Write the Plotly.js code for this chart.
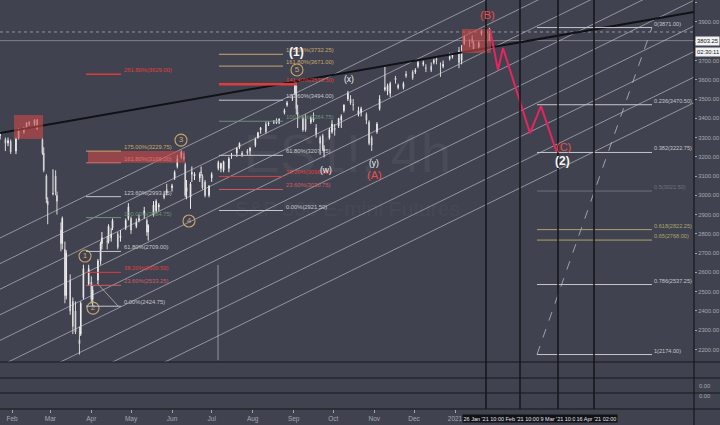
<!DOCTYPE html>
<html><head><meta charset="utf-8">
<script src="https://cdn.plot.ly/plotly-3.0.1.min.js"></script>
<style>html,body{margin:0;padding:0;background:#40434f;}#chart{width:720px;height:425px;}</style>
</head><body><div id="chart"></div>
<script>
// ---------------- DATA ----------------
const dates = [
'2020-01-23','2020-01-27','2020-01-29','2020-01-31','2020-02-04','2020-02-06','2020-02-10','2020-02-12','2020-02-14','2020-02-18',
'2020-02-20','2020-02-24','2020-02-25','2020-02-27','2020-02-28','2020-03-03','2020-03-05','2020-03-06','2020-03-09','2020-03-10',
'2020-03-12','2020-03-13','2020-03-16','2020-03-18','2020-03-20','2020-03-23','2020-03-24','2020-03-26','2020-03-30','2020-04-01',
'2020-04-02','2020-04-06','2020-04-08','2020-04-09','2020-04-13','2020-04-14','2020-04-16','2020-04-17','2020-04-21','2020-04-23',
'2020-04-27','2020-04-29','2020-05-01','2020-05-05','2020-05-07','2020-05-11','2020-05-13','2020-05-14','2020-05-18','2020-05-20',
'2020-05-22','2020-05-26','2020-05-28','2020-06-01','2020-06-03','2020-06-05','2020-06-08','2020-06-10','2020-06-11','2020-06-12',
'2020-06-15','2020-06-16','2020-06-18','2020-06-22','2020-06-23','2020-06-24','2020-06-26','2020-06-29','2020-07-01','2020-07-06',
'2020-07-08','2020-07-10','2020-07-14','2020-07-16','2020-07-20','2020-07-22','2020-07-24','2020-07-28','2020-07-30','2020-08-03',
'2020-08-05','2020-08-07','2020-08-11','2020-08-13','2020-08-17','2020-08-19','2020-08-21','2020-08-25','2020-08-27','2020-08-31',
'2020-09-02','2020-09-03','2020-09-04','2020-09-08','2020-09-10','2020-09-14','2020-09-16','2020-09-18','2020-09-21','2020-09-23',
'2020-09-24','2020-09-28','2020-09-30','2020-10-02','2020-10-05','2020-10-07','2020-10-09','2020-10-12','2020-10-14','2020-10-16',
'2020-10-20','2020-10-22','2020-10-26','2020-10-28','2020-10-30','2020-11-03','2020-11-05','2020-11-09','2020-11-11','2020-11-13',
'2020-11-17','2020-11-19','2020-11-23','2020-11-25','2020-11-30','2020-12-02','2020-12-04','2020-12-08','2020-12-10','2020-12-14',
'2020-12-16','2020-12-18','2020-12-21','2020-12-23','2020-12-28','2020-12-30','2021-01-04','2021-01-06','2021-01-08','2021-01-12',
'2021-01-14','2021-01-15','2021-01-19','2021-01-21','2021-01-25','2021-01-27'];
const opens = [
3310,3290,3272,3280,3230,3298,3330,3352,3372,3370,
3392,3290,3220,3100,2970,3010,3100,3000,2820,2750,
2720,2480,2560,2450,2400,2250,2280,2470,2540,2550,
2460,2560,2660,2750,2760,2760,2780,2830,2800,2780,
2830,2880,2880,2840,2870,2900,2870,2810,2900,2920,
2940,3000,3030,3040,3090,3150,3200,3200,3160,3020,
2990,3110,3100,3090,3120,3100,3070,3000,3090,3140,
3140,3130,3140,3210,3220,3250,3220,3230,3230,3260,
3300,3340,3370,3370,3380,3390,3380,3430,3470,3500,
3530,3570,3430,3400,3400,3380,3400,3350,3300,3310,
3230,3300,3330,3350,3360,3390,3440,3500,3500,3470,
3420,3430,3420,3380,3300,3330,3450,3550,3540,3530,
3610,3560,3560,3630,3640,3640,3670,3680,3660,3670,
3690,3710,3680,3670,3710,3720,3750,3700,3790,3800,
3810,3790,3770,3840,3850,3840];
const highs = [
3330,3300,3300,3290,3300,3350,3355,3380,3385,3395,
3397,3300,3250,3110,2990,3135,3130,3020,2860,2890,
2760,2715,2590,2470,2450,2320,2450,2640,2640,2580,
2530,2670,2760,2810,2790,2850,2830,2880,2810,2820,
2880,2960,2890,2880,2900,2940,2880,2850,2970,2980,
2960,3020,3060,3060,3130,3210,3233,3220,3170,3080,
3070,3150,3120,3120,3150,3110,3080,3050,3120,3180,
3170,3180,3200,3220,3250,3275,3230,3240,3250,3300,
3330,3355,3385,3385,3390,3400,3400,3450,3490,3520,
3588,3585,3470,3410,3420,3410,3430,3370,3310,3320,
3260,3350,3390,3370,3400,3420,3470,3542,3520,3500,
3460,3460,3430,3390,3310,3380,3520,3668,3580,3590,
3620,3580,3590,3645,3650,3660,3700,3700,3680,3690,
3710,3720,3690,3700,3740,3740,3770,3780,3830,3810,
3830,3800,3800,3860,3860,3870];
const lows = [
3290,3230,3255,3215,3214,3290,3320,3345,3360,3360,
3340,3210,3120,2960,2850,3000,3000,2900,2710,2720,
2440,2460,2380,2280,2280,2174,2270,2460,2530,2440,
2425,2540,2640,2720,2720,2750,2760,2820,2720,2760,
2820,2870,2800,2830,2860,2880,2790,2765,2890,2910,
2920,2980,3000,3020,3080,3140,3190,3180,2990,2980,
2930,3070,3080,3070,3100,3030,2990,2990,3070,3130,
3120,3120,3120,3190,3200,3240,3200,3210,3210,3250,
3295,3320,3320,3360,3370,3370,3370,3420,3460,3490,
3520,3420,3350,3330,3330,3370,3380,3300,3210,3230,
3197,3290,3320,3310,3350,3350,3430,3490,3470,3440,
3410,3410,3370,3260,3230,3320,3440,3540,3520,3510,
3580,3550,3550,3610,3600,3630,3660,3670,3640,3640,
3680,3680,3615,3660,3700,3710,3660,3680,3780,3770,
3790,3750,3760,3830,3790,3800];
const closes = [
3318,3270,3285,3225,3295,3345,3350,3375,3378,3390,
3345,3220,3130,2980,2950,3010,3020,2970,2750,2880,
2480,2700,2400,2320,2290,2230,2440,2620,2620,2460,
2510,2660,2750,2780,2760,2840,2800,2870,2730,2790,
2870,2940,2820,2860,2880,2920,2810,2845,2950,2970,
2950,2990,3010,3050,3120,3190,3225,3190,3000,3040,
3060,3120,3110,3110,3120,3040,3000,3050,3110,3170,
3165,3175,3190,3210,3245,3270,3210,3220,3245,3290,
3325,3350,3330,3375,3385,3375,3395,3440,3480,3500,
3580,3450,3420,3340,3340,3400,3390,3320,3270,3240,
3240,3340,3370,3340,3400,3410,3470,3530,3480,3470,
3440,3450,3390,3270,3260,3370,3500,3560,3570,3580,
3600,3570,3580,3620,3610,3650,3690,3690,3660,3650,
3700,3700,3680,3680,3720,3730,3690,3740,3820,3800,
3800,3760,3790,3850,3840,3803.25];

const lastPrice = 3803.25;
const highLine = 3848;
const countdown = '02:30:11';

// x extent of the chart (time axis)
const xStart = '2020-01-22 22:13', xEnd = '2021-06-30 17:30';
const tickVals = ['2020-02-01','2020-03-01','2020-04-01','2020-05-01','2020-06-01','2020-07-01','2020-08-01','2020-09-01','2020-10-01','2020-11-01','2020-12-01','2021-01-01'];
const tickText = ['Feb','Mar','Apr','May','Jun','Jul','Aug','Sep','Oct','Nov','Dec','2021'];

// parallel channel lines (price at start / end of the axis)
const chStart = [2778.7,2645.9,2513.0,2380.1,2247.3,2114.4,1981.5,1848.7,1715.8];
const chEnd   = [4543.7,4410.9,4278.0,4145.1,4012.3,3879.4,3746.5,3613.7,3480.8];

// black trend line
const trendPrices = [3324, 3952];

// fib group 1 (Mar-Apr 2020)
const fib1Dates = ['2020-03-27 23:00','2020-04-23 10:00','2020-04-24 22:30'];
const fib1Labels = ['175.00%(3229.75)','161.80%(3169.00)','123.60%(2993.25)','100.00%(2884.75)','61.80%(2709.00)','38.20%(2600.50)','23.60%(2533.25)','0.00%(2424.75)'];
const fib1Prices = [3229.75,3169.00,2993.25,2884.75,2709.00,2600.50,2533.25,2424.75];
const fibTopLabel = '261.80%(3629.00)';
const fibTopPrice = 3629.00;

// fib group 2 (Jul-Aug 2020)
const fib2Dates = ['2020-07-06 12:00','2020-08-23 22:00','2020-08-25 10:00','2020-09-03 12:00'];
const fib2Labels = ['175.00%(3732.25)','161.80%(3671.00)','141.40%(3576.50)','123.60%(3494.00)','100.00%(3384.75)','61.80%(3207.75)','38.20%(3098.25)','23.60%(3030.75)','0.00%(2921.50)'];
const fib2Prices = [3732.25,3671.00,3576.50,3494.00,3384.75,3207.75,3098.25,3030.75,2921.50];

// fib retracement (projection, 2021)
const fib3Dates = ['2021-03-04 00:00','2021-05-29 23:15','2021-05-30 17:30'];
const fib3Labels = ['0(3871.00)','0.236(3470.50)','0.382(3222.75)','0.5(3022.50)','0.618(2822.25)','0.65(2768.00)','0.786(2537.25)','1(2174.00)'];
const fib3Prices = [3871.00,3470.50,3222.75,3022.50,2822.25,2768.00,2537.25,2174.00];

// red zones
const zoneX0 = ['2020-02-02 12:00','2020-03-29 11:00','2021-01-06 07:00'];
const zoneX1 = ['2020-02-24 10:30','2020-06-10 19:40','2021-01-28 05:00'];
const zoneP0 = [3417, 3229.75, 3863.5];
const zoneP1 = [3293, 3169.00, 3739];

// projected path
const pathDates = ['2021-01-27 12:00','2021-02-02 12:00','2021-02-06 07:00','2021-02-26 17:00','2021-03-07 00:00','2021-03-19 02:00'];
const pathPrices = [3863, 3651, 3765, 3323, 3463, 3220];

// vertical time markers and their axis labels
const vDates = ['2021-01-24 10:30','2021-02-19 03:40','2021-03-19 21:20','2021-04-16 02:30'];
const vLabelDates = ['2021-01-23 04:00','2021-02-20 19:40','2021-03-19 12:15','2021-04-17 16:50'];
const vLabels = ["26 Jan '21 10:00","Feb '21 10:00","9 Mar '21 10:0","16 Apr '21 02:00"];

// other drawing lines
const fibTrendDates = ['2020-04-05 07:00','2020-04-21 04:00'];
const fibTrendPrices = [2545, 2426];
const vGrayDates = ['2020-07-05 19:00','2020-07-05 19:00'];
const vGrayPrices = [2145, 2639];

// wave labels
const circText = ['1','2','3','4','5'];
const circDates = ['2020-03-27 05:00','2020-04-02 06:00','2020-06-07 19:00','2020-06-13 20:00','2020-09-03 12:00'];
const circPrices = [2685, 2415, 3287, 2867, 3651];
const whiteText = ['(x)','(w)','(y)'];
const whiteDates = ['2020-10-12 19:00','2020-09-25 11:00','2020-10-31 18:00'];
const whitePrices = [3604, 3132, 3168];
const boldText = ['(1)','(2)'];
const boldDates = ['2020-09-03 12:00','2021-03-22 22:00'];
const boldPrices = [3744, 3178];
const redText = ['(A)','(B)','(C)'];
const redDates = ['2020-10-31 18:00','2021-01-25 05:00','2021-03-23 16:00'];
const redPrices = [3106, 3936, 3251];

// ---------------- STYLE ----------------
const BG = '#40434f';
const FONT = 'Liberation Sans, Arial, sans-serif';
const AX = '#a4a7b1';
const DARK = '#17181d';
const gray = '#c4c6cc', gold = '#c9a56e', red = '#e03b3b', pink = '#d35a66', green = '#6f8f78', olive = '#aaa46a', faint = '#6d707c';
const fib1Colors = [gold, '#e07070', gray, green, gray, red, pink, gray];
const fib2Colors = [gold, gold, red, gray, green, gray, red, pink, gray];
const fib3Colors = [gray, gray, gray, faint, olive, olive, gray, gray];

const H = 409; // plot height in px
const mainBottom = 1 - 362/H;

const traces = [];
const chX = [], chY = [];
chStart.forEach((p, i) => { chX.push(xStart, xEnd, null); chY.push(p, chEnd[i], null); });
traces.push({type:'scatter', mode:'lines', x: chX, y: chY, line:{color:'rgba(215,217,224,0.55)', width:1}, hoverinfo:'skip'});
traces.push({type:'scatter', mode:'lines', x: vGrayDates, y: vGrayPrices, line:{color:'rgba(215,217,224,0.55)', width:1}, hoverinfo:'skip'});
traces.push({type:'scatter', mode:'lines', x: fibTrendDates, y: fibTrendPrices, line:{color:'rgba(215,217,224,0.6)', width:1}, hoverinfo:'skip'});
traces.push({type:'scatter', mode:'lines', x: [xStart, xEnd], y: [highLine, highLine], line:{color:'rgba(200,202,210,0.6)', width:1, dash:'dot'}, hoverinfo:'skip'});
traces.push({type:'scatter', mode:'lines', x: [xStart, xEnd], y: [lastPrice, lastPrice], line:{color:'rgba(200,202,210,0.45)', width:1}, hoverinfo:'skip'});
traces.push({type:'scatter', mode:'lines', x: [fib3Dates[0], fib3Dates[1]], y: [fib3Prices[7], fib3Prices[0]], line:{color:'rgba(200,202,210,0.7)', width:1, dash:'dash'}, hoverinfo:'skip'});

traces.push({type:'candlestick', x: dates, open: opens, high: highs, low: lows, close: closes,
  increasing:{line:{color:'#eeeeee', width:1}, fillcolor:'#eeeeee'},
  decreasing:{line:{color:'#d8d8d8', width:1}, fillcolor:'#d8d8d8'},
  whiskerwidth:0, hoverinfo:'skip'});

traces.push({type:'scatter', mode:'lines', x:[xStart, xEnd], y: trendPrices, line:{color:'#111216', width:2}, hoverinfo:'skip'});
traces.push({type:'scatter', mode:'lines', x: pathDates, y: pathPrices, line:{color:'#e8245f', width:2}, hoverinfo:'skip'});
traces.push({type:'scatter', mode:'markers+text', x: circDates, y: circPrices, text: circText,
  marker:{symbol:'circle', size:12, color:'rgba(0,0,0,0)', line:{color:gold, width:1.1}},
  textposition:'middle center', textfont:{family:FONT, size:8, color:gold}, hoverinfo:'skip'});

const shapes = [];
zoneX0.forEach((x0, i) => shapes.push({type:'rect', xref:'x', yref:'y', x0, x1: zoneX1[i], y0: zoneP0[i], y1: zoneP1[i], fillcolor:'rgba(200,72,72,0.62)', line:{width:0}, layer:'above'}));
function fibLines(x0, x1, prices, colors, widths) {
  prices.forEach((p, i) => shapes.push({type:'line', xref:'x', yref:'y', x0, x1, y0:p, y1:p, line:{color:colors[i], width: widths ? widths[i] : 1}}));
}
fibLines(fib1Dates[0], fib1Dates[1], fib1Prices, fib1Colors);
fibLines(fib1Dates[0], fib1Dates[1], [fibTopPrice], [red], [1.5]);
fibLines(fib2Dates[0], fib2Dates[1], fib2Prices.filter((p,i)=>i!==2), fib2Colors.filter((c,i)=>i!==2));
fibLines(fib2Dates[0], fib2Dates[3], [fib2Prices[2]], [red], [2.5]);
fibLines(fib3Dates[0], fib3Dates[1], fib3Prices, fib3Colors);
vDates.forEach(d => shapes.push({type:'line', xref:'x', yref:'paper', x0:d, x1:d, y0:0, y1:1, line:{color:DARK, width:1.6}}));
[mainBottom, 1-378/H, 1-393/H, 0].forEach(y => shapes.push({type:'line', xref:'paper', yref:'paper', x0:0, x1:720/694, y0:y, y1:y, line:{color:DARK, width:1.2}}));
shapes.push({type:'line', xref:'paper', yref:'paper', x0:1, x1:1, y0:-16/H, y1:1, line:{color:DARK, width:1.2}});

const ann = [];
function fibLabels(x, labels, prices, colors, size) {
  labels.forEach((t, i) => ann.push({xref:'x', yref:'y', x, y: prices[i], text:t, showarrow:false, xanchor:'left', yanchor:'bottom', borderpad:0, font:{family:FONT, size:size, color:colors[i]}}));
}
fibLabels(fib1Dates[2], fib1Labels, fib1Prices, fib1Colors, 5.8);
fibLabels(fib1Dates[2], [fibTopLabel], [fibTopPrice], [red], 5.8);
fibLabels(fib2Dates[2], fib2Labels, fib2Prices, fib2Colors, 5.8);
fibLabels(fib3Dates[2], fib3Labels, fib3Prices, fib3Colors, 5.6);

// watermark
ann.push({xref:'paper', yref:'paper', x:0.5, y:1-153/H, text:'ES1!, 4h', showarrow:false, font:{family:FONT, size:54, color:'rgba(255,255,255,0.05)'}});
ann.push({xref:'paper', yref:'paper', x:0.5, y:1-208/H, text:'S&P 500 E-mini Futures', showarrow:false, font:{family:FONT, size:21, color:'rgba(255,255,255,0.05)'}});

// wave labels
whiteText.forEach((t,i)=>ann.push({xref:'x', yref:'y', x:whiteDates[i], y:whitePrices[i], text:t, showarrow:false, font:{family:FONT, size:8.5, color:'#f2f2f2'}}));
boldText.forEach((t,i)=>ann.push({xref:'x', yref:'y', x:boldDates[i], y:boldPrices[i], text:'<b>'+t+'</b>', showarrow:false, font:{family:FONT, size:12, color:'#f5f5f5'}}));
redText.forEach((t,i)=>ann.push({xref:'x', yref:'y', x:redDates[i], y:redPrices[i], text:t, showarrow:false, font:{family:FONT, size:11, color:'#ef4b4b'}}));

// price & countdown labels
ann.push({xref:'paper', yref:'y', x:1, y:lastPrice, xanchor:'left', xshift:1, text:lastPrice.toFixed(2), showarrow:false, bgcolor:'#f2f2f2', borderpad:1, font:{family:FONT, size:5.8, color:'#20222a'}});
ann.push({xref:'paper', yref:'y', x:1, y:lastPrice, xanchor:'left', xshift:1, yshift:-11, text:countdown, showarrow:false, bgcolor:'#f2f2f2', borderpad:1, font:{family:FONT, size:5.8, color:'#20222a'}});
[1-390.7/H, 1-401/H].forEach(y => ann.push({xref:'paper', yref:'paper', x:1, y, xanchor:'left', xshift:3, text:'0.00', showarrow:false, font:{family:FONT, size:5.8, color:AX}}));
vLabels.forEach((t, i) => ann.push({xref:'x', yref:'paper', x:vLabelDates[i], y:-9/H, yanchor:'middle', text:t, showarrow:false, bgcolor:'#111217', borderpad:0.5, font:{family:FONT, size:5.5, color:'#e6e6e6'}}));

const layout = {
  width:720, height:425, margin:{l:0, r:26, t:0, b:16},
  paper_bgcolor:BG, plot_bgcolor:BG, showlegend:false,
  font:{family:FONT, size:7, color:AX},
  xaxis:{type:'date', range:[xStart, xEnd], anchor:'free', position:0, showgrid:false, zeroline:false,
    tickvals:tickVals, ticktext:tickText, ticks:'outside', ticklen:3, tickcolor:AX,
    tickfont:{family:FONT, size:6.5, color:AX}, rangeslider:{visible:false}, fixedrange:true},
  yaxis:{domain:[mainBottom, 1], range:[2135.2, 4014.0], side:'right', showgrid:false, zeroline:false,
    tickformat:'.2f', dtick:100, tick0:0, ticks:'outside', ticklen:2, tickcolor:AX,
    tickfont:{family:FONT, size:5.8, color:AX}, fixedrange:true},
  shapes, annotations: ann
};
Plotly.newPlot('chart', traces, layout, {staticPlot:true, displayModeBar:false});
</script></body></html>
